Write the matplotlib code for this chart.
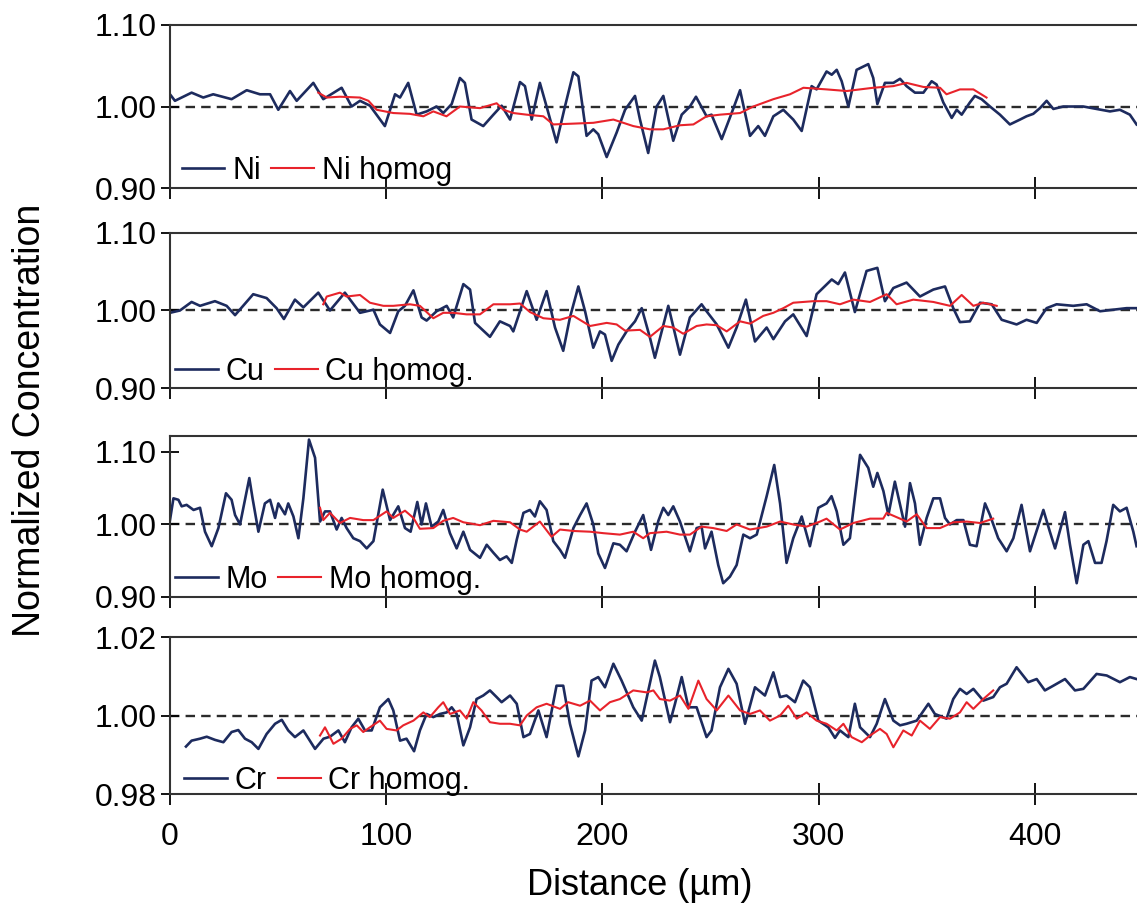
import numpy as np
import matplotlib
matplotlib.use("Agg")
import matplotlib.pyplot as plt

# values: (distance in um, normalized concentration)
ni = [(0, 1.015), (2.3, 1.007), (10.0, 1.017), (15.4, 1.011), (20.0, 1.015), (28.5, 1.009), (35.5, 1.020),
      (41.6, 1.015), (46.3, 1.015), (50.1, 0.996), (55.5, 1.019), (58.6, 1.007), (66.3, 1.029), (70.9, 1.009),
      (79.4, 1.023), (84.0, 1.000), (87.9, 1.007), (92.5, 1.001), (99.4, 0.976), (104.1, 1.015), (106.4, 1.011),
      (110.2, 1.029), (114.1, 0.990), (118.7, 0.994), (123.3, 1.000), (126.4, 0.992), (130.3, 1.003),
      (134.1, 1.035), (136.4, 1.029), (139.5, 0.984), (144.9, 0.976), (149.6, 0.990), (153.4, 1.001),
      (157.3, 0.984), (161.9, 1.030), (164.2, 1.025), (167.3, 0.984), (171.1, 1.029), (174.2, 1.000),
      (178.8, 0.956), (182.7, 1.000), (186.6, 1.042), (188.9, 1.037), (192.7, 0.964), (195.8, 0.972),
      (198.1, 0.966), (202.0, 0.938), (206.6, 0.968), (210.5, 0.996), (215.1, 1.013), (217.4, 0.984),
      (221.2, 0.943), (225.1, 1.000), (228.2, 1.013), (232.8, 0.958), (236.7, 0.990), (240.5, 1.000),
      (243.3, 1.012), (248.2, 0.988), (250.5, 0.990), (255.2, 0.960), (259.8, 0.992), (263.7, 1.020),
      (268.3, 0.964), (272.1, 0.976), (275.2, 0.964), (279.1, 0.988), (283.7, 0.996), (288.3, 0.984),
      (292.2, 0.970), (296.8, 1.025), (299.1, 1.021), (303.7, 1.043), (306.1, 1.039), (308.4, 1.045),
      (310.7, 1.031), (313.8, 1.000), (317.6, 1.045), (323.0, 1.052), (325.3, 1.035), (327.2, 1.003),
      (330.7, 1.029), (334.6, 1.029), (337.7, 1.034), (340.7, 1.025), (344.6, 1.017), (348.5, 1.017),
      (352.3, 1.031), (354.6, 1.027), (357.7, 1.005), (361.6, 0.986), (363.9, 0.996), (366.2, 0.990),
      (370.0, 1.005), (372.3, 1.013), (375.4, 1.009), (379.3, 1.000), (383.9, 0.990), (388.5, 0.978),
      (393.2, 0.984), (396.2, 0.988), (399.3, 0.991), (402.4, 0.998), (405.5, 1.007), (408.6, 0.997),
      (413.2, 1.000), (416.3, 1.000), (422.5, 1.000), (428.6, 0.997), (434.8, 0.994), (439.4, 0.996),
      (444.0, 0.990), (447.1, 0.978)]
ni_homog = [(68.6, 1.017), (72.5, 1.011), (78.6, 1.012), (87.9, 1.011), (91.8, 1.007), (95.6, 0.996),
            (103.3, 0.992), (111.0, 0.991), (117.2, 0.988), (121.8, 0.994), (127.9, 0.988), (134.1, 1.000),
            (143.4, 0.998), (151.1, 1.004), (154.2, 0.996), (158.8, 0.992), (165.0, 0.990), (172.7, 0.988),
            (177.3, 0.978), (186.6, 0.979), (195.8, 0.980), (205.1, 0.984), (214.3, 0.976), (222.0, 0.972),
            (228.2, 0.972), (235.9, 0.977), (242.1, 0.978), (248.2, 0.988), (254.4, 0.990), (263.7, 0.992),
            (269.8, 1.000), (279.1, 1.009), (286.8, 1.015), (293.0, 1.023), (303.7, 1.021), (313.0, 1.019),
            (325.3, 1.023), (334.6, 1.025), (340.7, 1.029), (348.5, 1.024), (356.2, 1.023), (359.2, 1.015),
            (365.4, 1.021), (371.6, 1.021), (377.7, 1.011)]

cu = [(0, 0.997), (4.6, 1.000), (10.0, 1.011), (13.9, 1.006), (20.8, 1.012), (26.2, 1.006), (30.1, 0.994),
      (38.5, 1.021), (44.7, 1.016), (49.3, 1.003), (52.7, 0.989), (57.8, 1.014), (61.7, 1.004), (68.6, 1.023),
      (74.0, 1.000), (80.9, 1.023), (87.9, 0.997), (94.1, 1.001), (97.1, 0.982), (101.8, 0.971),
      (105.6, 0.999), (108.7, 1.006), (112.6, 1.026), (116.4, 0.991), (118.7, 0.987), (123.3, 0.999),
      (128.0, 1.006), (131.0, 0.991), (135.7, 1.034), (138.8, 1.027), (141.1, 0.984), (148.0, 0.966),
      (152.6, 0.986), (157.3, 0.980), (158.8, 0.973), (165.0, 1.025), (169.6, 0.988), (174.2, 1.025),
      (178.1, 0.978), (181.9, 0.948), (185.0, 0.991), (188.9, 1.031), (192.0, 0.999), (195.8, 0.952),
      (198.9, 0.973), (201.2, 0.969), (204.3, 0.935), (207.4, 0.956), (211.2, 0.973), (215.1, 0.986),
      (218.2, 1.003), (222.0, 0.965), (224.3, 0.939), (230.5, 1.006), (235.9, 0.943), (240.5, 0.991),
      (245.9, 1.008), (248.2, 0.999), (252.9, 0.982), (258.3, 0.952), (262.1, 0.978), (266.4, 1.014),
      (270.6, 0.960), (276.0, 0.978), (279.1, 0.963), (284.5, 0.986), (288.3, 0.995), (294.5, 0.967),
      (299.1, 1.021), (306.1, 1.040), (309.1, 1.034), (312.2, 1.049), (316.8, 0.998), (322.2, 1.051),
      (327.2, 1.055), (330.7, 1.012), (334.6, 1.029), (340.7, 1.036), (346.9, 1.018), (353.1, 1.027),
      (358.5, 1.031), (362.3, 1.003), (365.4, 0.985), (370.0, 0.986), (374.7, 1.010), (380.1, 1.008),
      (384.7, 0.988), (391.6, 0.982), (396.2, 0.988), (400.9, 0.984), (405.5, 1.003), (410.1, 1.008),
      (417.8, 1.006), (424.0, 1.008), (430.2, 0.999), (436.3, 1.001), (442.5, 1.003), (447.1, 1.003)]
cu_homog = [(70.9, 1.008), (72.5, 1.018), (78.6, 1.023), (81.7, 1.018), (87.9, 1.020), (92.5, 1.010),
            (98.7, 1.006), (103.3, 1.006), (111.0, 1.008), (115.6, 1.006), (121.8, 0.990), (126.4, 0.997),
            (131.0, 0.997), (137.2, 0.995), (143.4, 0.995), (149.6, 1.008), (157.3, 1.008), (161.9, 1.009),
            (166.5, 0.998), (172.7, 0.990), (180.4, 0.988), (186.6, 0.993), (194.3, 0.980), (202.0, 0.984),
            (206.6, 0.982), (210.5, 0.974), (217.4, 0.975), (222.0, 0.966), (228.2, 0.980), (232.8, 0.978),
            (237.4, 0.970), (243.6, 0.980), (248.2, 0.982), (252.9, 0.981), (257.5, 0.973), (263.7, 0.986),
            (268.3, 0.983), (274.4, 0.993), (279.1, 0.997), (283.7, 1.003), (288.3, 1.010), (297.6, 1.012),
            (303.7, 1.012), (309.9, 1.008), (316.1, 1.014), (323.8, 1.011), (331.5, 1.021), (336.1, 1.008),
            (343.8, 1.014), (353.1, 1.011), (360.8, 1.006), (366.2, 1.020), (371.6, 1.006), (376.2, 1.010),
            (382.4, 1.006)]

mo = [(0, 1.006), (1.6, 1.036), (3.9, 1.034), (5.4, 1.025), (7.7, 1.027), (10.9, 1.020), (13.9, 1.023),
      (16.2, 0.990), (19.3, 0.970), (22.4, 0.995), (25.9, 1.043), (28.5, 1.034), (30.1, 1.013), (32.4, 1.000),
      (34.7, 1.034), (36.7, 1.064), (38.2, 1.036), (40.9, 0.990), (43.9, 1.029), (46.3, 1.034), (48.6, 1.009),
      (50.1, 1.029), (53.2, 1.014), (54.7, 1.029), (57.1, 1.011), (59.4, 0.981), (61.7, 1.036), (64.3, 1.117),
      (67.1, 1.092), (69.4, 1.004), (71.7, 1.018), (74.0, 1.018), (77.1, 0.993), (79.4, 1.009), (81.7, 0.995),
      (84.8, 0.981), (87.9, 0.977), (91.0, 0.967), (94.1, 0.977), (98.4, 1.048), (101.8, 1.006),
      (105.6, 1.025), (108.7, 0.995), (111.3, 0.990), (114.4, 1.031), (116.4, 1.000), (118.4, 1.029),
      (121.0, 0.997), (124.1, 1.004), (126.4, 1.020), (129.5, 0.988), (132.6, 0.967), (135.7, 0.990),
      (138.8, 0.965), (143.4, 0.954), (146.5, 0.972), (149.6, 0.961), (152.6, 0.951), (155.7, 0.956),
      (158.1, 0.947), (160.4, 0.979), (163.5, 1.016), (166.5, 1.020), (168.8, 1.011), (171.1, 1.032),
      (174.2, 1.020), (177.3, 0.977), (180.4, 0.965), (182.7, 0.954), (186.6, 0.995), (189.7, 1.013),
      (192.7, 1.029), (195.8, 1.000), (198.1, 0.960), (201.2, 0.940), (205.1, 0.974), (208.1, 0.972),
      (211.2, 0.963), (215.1, 0.990), (218.9, 1.013), (222.5, 0.965), (225.9, 1.005), (228.2, 1.023),
      (230.5, 1.013), (232.8, 1.025), (235.9, 1.004), (240.5, 0.963), (243.6, 0.995), (245.9, 0.997),
      (247.5, 0.967), (250.5, 0.990), (253.6, 0.944), (255.9, 0.919), (259.0, 0.928), (262.1, 0.944),
      (265.2, 0.986), (268.3, 0.981), (271.4, 0.986), (276.0, 1.039), (279.5, 1.082), (282.2, 1.029),
      (285.2, 0.947), (288.3, 0.981), (292.2, 1.011), (296.0, 0.970), (299.9, 1.023), (303.7, 1.029),
      (306.0, 1.039), (308.4, 1.018), (311.5, 0.972), (314.5, 0.981), (319.2, 1.096), (323.0, 1.078),
      (325.3, 1.052), (327.2, 1.071), (330.0, 1.046), (332.3, 1.013), (335.3, 1.059), (340.0, 0.997),
      (342.3, 1.057), (344.6, 1.029), (346.9, 0.972), (350.0, 1.009), (353.1, 1.036), (356.2, 1.036),
      (358.5, 1.009), (360.8, 1.000), (363.9, 1.006), (367.0, 1.006), (370.0, 0.972), (373.1, 0.970),
      (377.0, 1.029), (379.3, 1.013), (383.1, 0.981), (387.0, 0.963), (390.1, 0.981), (393.9, 1.027),
      (397.8, 0.963), (404.0, 1.020), (407.0, 0.990), (409.4, 0.967), (414.0, 1.017), (416.3, 0.972),
      (419.4, 0.919), (422.5, 0.972), (424.8, 0.977), (427.9, 0.947), (430.9, 0.947), (433.2, 0.977),
      (436.3, 1.027), (439.4, 1.018), (442.5, 1.023), (445.6, 0.990), (447.1, 0.970)]
mo_homog = [(69.4, 1.023), (70.9, 1.006), (74.0, 1.016), (78.6, 1.002), (83.3, 1.009), (89.4, 1.006),
            (94.1, 1.006), (100.2, 1.018), (103.3, 1.009), (108.7, 1.019), (112.6, 1.009), (115.6, 0.994),
            (121.8, 0.995), (126.4, 1.005), (131.0, 1.009), (135.7, 1.003), (143.4, 0.999), (149.6, 1.005),
            (157.3, 1.003), (161.9, 0.993), (165.0, 0.990), (171.1, 1.004), (176.5, 0.983), (180.4, 0.993),
            (186.6, 0.991), (194.3, 0.990), (200.4, 0.988), (208.1, 0.986), (214.3, 0.990), (218.9, 0.981),
            (222.0, 0.988), (229.7, 0.990), (235.9, 0.986), (240.5, 0.986), (245.9, 0.997), (251.3, 0.995),
            (257.5, 0.991), (262.1, 1.000), (268.3, 0.993), (276.0, 0.997), (282.2, 1.004), (288.3, 1.000),
            (294.5, 0.997), (300.7, 1.004), (303.7, 1.008), (309.9, 0.993), (316.1, 1.002), (323.8, 1.008),
            (329.9, 1.008), (331.5, 1.016), (337.7, 1.008), (340.7, 1.004), (345.4, 1.014), (350.0, 0.995),
            (356.2, 0.995), (362.3, 1.003), (368.5, 1.004), (374.7, 1.002), (380.8, 1.008)]

cr = [(7.4, 0.9921), (10.0, 0.9936), (13.9, 0.9941), (17.0, 0.9946), (20.8, 0.9938), (24.7, 0.9932),
      (28.5, 0.9958), (31.6, 0.9963), (34.7, 0.9941), (37.8, 0.9932), (40.9, 0.9915), (44.7, 0.9953),
      (48.6, 0.9979), (51.7, 0.9989), (54.7, 0.9962), (57.8, 0.9945), (61.7, 0.9962), (67.1, 0.9915),
      (71.0, 0.9941), (74.0, 0.9946), (77.9, 0.9962), (80.9, 0.9932), (84.0, 0.9970), (87.1, 0.9992),
      (90.2, 0.9962), (93.3, 0.9962), (97.1, 1.0021), (101.0, 1.0042), (103.3, 1.0013), (106.4, 0.9936),
      (109.4, 0.9941), (112.9, 0.9909), (115.6, 0.9962), (118.7, 1.0004), (121.8, 0.9996), (124.9, 1.0004),
      (128.0, 1.0008), (130.3, 1.0021), (132.6, 1.0004), (135.7, 0.9924), (138.8, 0.9970), (141.8, 1.0042),
      (144.9, 1.0051), (148.0, 1.0064), (151.1, 1.0047), (153.4, 1.0034), (157.3, 1.0051), (160.4, 1.0030),
      (163.5, 0.9945), (166.5, 0.9953), (170.4, 1.0013), (174.2, 0.9945), (178.8, 1.0076), (181.9, 1.0076),
      (185.0, 0.9979), (188.9, 0.9896), (192.0, 0.9962), (195.0, 1.0089), (198.1, 1.0098), (201.2, 1.0072),
      (205.1, 1.0132), (208.9, 1.0089), (214.3, 1.0021), (218.2, 0.9987), (221.5, 1.0070), (224.3, 1.0140),
      (226.6, 1.0098), (231.3, 0.9983), (233.6, 1.0030), (236.7, 1.0098), (239.8, 1.0021), (243.6, 1.0021),
      (248.2, 0.9945), (250.5, 0.9962), (254.4, 1.0072), (258.3, 1.0119), (262.1, 1.0081), (266.0, 0.9979),
      (270.6, 1.0072), (275.2, 1.0051), (279.1, 1.0110), (282.2, 1.0047), (285.2, 1.0051), (289.1, 1.0034),
      (292.9, 1.0089), (296.0, 1.0072), (299.9, 0.9987), (304.5, 0.9970), (307.6, 0.9943), (309.9, 0.9962),
      (313.8, 0.9945), (316.8, 1.0030), (319.2, 0.9970), (323.8, 0.9945), (326.9, 0.9979), (330.7, 1.0042),
      (334.6, 0.9987), (337.7, 0.9975), (340.7, 0.9979), (345.4, 0.9987), (350.8, 1.0030), (353.8, 1.0004),
      (359.2, 0.9992), (362.3, 1.0042), (365.4, 1.0068), (368.5, 1.0055), (371.6, 1.0068), (376.2, 1.0038),
      (380.8, 1.0047), (383.9, 1.0072), (387.0, 1.0081), (391.6, 1.0123), (397.0, 1.0085), (400.9, 1.0093),
      (404.7, 1.0064), (408.6, 1.0076), (414.0, 1.0093), (418.6, 1.0064), (422.5, 1.0068), (428.6, 1.0106),
      (433.3, 1.0102), (439.4, 1.0085), (444.0, 1.0098), (447.1, 1.0093)]
cr_homog = [(69.4, 0.9949), (71.7, 0.9970), (75.6, 0.9928), (79.4, 0.9941), (83.3, 0.9966), (86.4, 0.9975),
            (89.4, 0.9958), (92.5, 0.9970), (97.1, 0.9987), (100.2, 0.9966), (104.8, 0.9962), (107.9, 0.9975),
            (112.6, 0.9987), (117.2, 1.0008), (120.2, 0.9996), (124.1, 1.0021), (126.4, 1.0034), (129.5, 1.0004),
            (134.1, 1.0013), (137.2, 0.9992), (140.3, 1.0034), (144.1, 1.0013), (148.0, 0.9983), (152.6, 0.9979),
            (157.3, 0.9979), (161.9, 0.9975), (165.0, 1.0000), (169.6, 1.0021), (174.2, 1.0030), (180.4, 1.0017),
            (184.2, 1.0034), (189.7, 1.0025), (194.3, 1.0038), (198.9, 1.0013), (203.5, 1.0034), (208.1, 1.0042),
            (214.3, 1.0064), (220.5, 1.0059), (223.6, 1.0064), (226.6, 1.0042), (231.3, 1.0038), (235.9, 1.0051),
            (239.8, 1.0017), (244.4, 1.0089), (248.2, 1.0042), (252.9, 1.0013), (258.3, 1.0051), (263.7, 1.0013),
            (268.3, 1.0004), (272.9, 1.0013), (277.5, 0.9987), (282.2, 1.0000), (286.0, 1.0025), (289.9, 0.9992),
            (294.5, 1.0008), (299.1, 0.9987), (303.7, 0.9979), (308.4, 0.9962), (311.5, 0.9979), (315.3, 0.9945),
            (320.0, 0.9932), (323.8, 0.9949), (328.4, 0.9966), (331.5, 0.9953), (334.6, 0.9919), (339.2, 0.9962),
            (343.1, 0.9949), (346.9, 0.9987), (351.5, 0.9966), (356.2, 0.9996), (360.8, 0.9992), (365.4, 1.0008),
            (368.5, 1.0034), (371.6, 1.0017), (376.2, 1.0042), (380.8, 1.0064)]

labels = [("Ni", "Ni homog"), ("Cu", "Cu homog."), ("Mo", "Mo homog."), ("Cr", "Cr homog.")]
ylims = [(0.90, 1.10), (0.90, 1.10), (0.90, 1.122), (0.98, 1.02)]
yticks = [[0.90, 1.00, 1.10], [0.90, 1.00, 1.10], [0.90, 1.00, 1.10], [0.98, 1.00, 1.02]]
xticks = [0, 100, 200, 300, 400]

navy = "#1d2b5e"
red = "#e8232b"

plt.rcParams["font.family"] = ["Liberation Sans", "DejaVu Sans"]

fig = plt.figure(figsize=(11.37, 9.19), dpi=100)

# axes boxes [bottom, height] in figure fraction, and legend anchor in axes fraction
boxes = [(0.7954, 0.1774), (0.5778, 0.1687), (0.3504, 0.1752), (0.1360, 0.1708)]
leg_pos = [(0.012, 0.104), (0.005, 0.103), (0.005, 0.106), (0.015, 0.083)]

series = [(ni, ni_homog), (cu, cu_homog), (mo, mo_homog), (cr, cr_homog)]

for i, ((raw, hom), (name, hname)) in enumerate(zip(series, labels)):
    bottom, height = boxes[i]
    ax = fig.add_axes([0.1495, bottom, 0.8505, height])
    rx, ry = np.array(raw).T
    hx, hy = np.array(hom).T

    ax.axhline(1.0, color="#2b2b2b", lw=1.7, ls=(0, (4, 2.6)), zorder=1)
    l1, = ax.plot(rx, ry, color=navy, lw=1.9, solid_joinstyle="round", zorder=2)
    l2, = ax.plot(hx, hy, color=red, lw=1.5, solid_joinstyle="round", zorder=3)

    ax.set_xlim(0, 447.3)
    ax.set_ylim(*ylims[i])
    ax.set_xticks(xticks)
    ax.set_yticks(yticks[i])
    ax.set_yticklabels([f"{t:.2f}" for t in yticks[i]])
    ax.tick_params(axis="y", direction="inout", length=13, width=1.3, labelsize=23, pad=3)
    ax.tick_params(axis="x", direction="inout", length=16, width=1.3, labelsize=23, pad=12,
                   labelbottom=(i == 3))
    for side in ["left", "bottom", "top"]:
        ax.spines[side].set_color("#333333")
        ax.spines[side].set_linewidth(1.5)
    ax.spines["right"].set_visible(False)

    ax.legend([l1, l2], [name, hname], loc="center left", bbox_to_anchor=leg_pos[i], ncol=2,
              frameon=False, fontsize=22, handlelength=1.4, handletextpad=0.25,
              columnspacing=0.35, borderpad=0, borderaxespad=0)

fig.text(0.026, 0.543, "Normalized Concentration", rotation=90, ha="center", va="center", fontsize=27)
fig.text(0.563, 0.036, "Distance (µm)", ha="center", va="center", fontsize=26)

fig.savefig("out.png", dpi=100)
